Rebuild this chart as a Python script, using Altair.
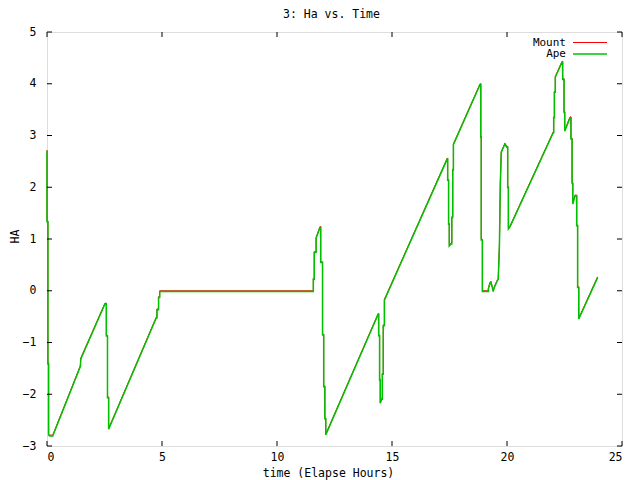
import altair as alt
import pandas as pd

# Step-like trace (time in hours, HA)
time_h = [0.00, 0.00, 0.04, 0.04, 0.07, 0.07, 0.12, 0.25, 1.45, 1.47, 2.52, 2.55,
          2.58, 2.58, 2.63, 2.63, 2.68, 2.68, 4.75, 4.78, 4.78, 4.85, 4.85, 4.90,
          4.90, 11.58, 11.58, 11.62, 11.62, 11.70, 11.70, 11.87, 11.90, 11.90, 11.98, 11.98,
          12.03, 12.03, 12.08, 12.08, 12.12, 12.12, 14.40, 14.42, 14.42, 14.46, 14.46, 14.49,
          14.49, 14.55, 14.58, 14.58, 14.62, 14.62, 14.67, 14.67, 17.40, 17.42, 17.42, 17.46,
          17.46, 17.49, 17.49, 17.57, 17.60, 17.60, 17.64, 17.64, 17.67, 17.67, 18.83, 18.86,
          18.86, 18.88, 18.88, 18.93, 18.93, 19.19, 19.19, 19.26, 19.30, 19.36, 19.40, 19.45,
          19.55, 19.62, 19.62, 19.67, 19.67, 19.71, 19.71, 19.75, 19.75, 19.91, 19.99, 20.03,
          20.03, 20.06, 20.06, 20.13, 22.01, 22.03, 22.03, 22.06, 22.06, 22.10, 22.10, 22.39,
          22.42, 22.42, 22.48, 22.48, 22.51, 22.51, 22.74, 22.78, 22.78, 22.83, 22.83, 22.86,
          22.86, 22.96, 23.03, 23.03, 23.07, 23.07, 23.12, 23.12, 23.94]
ha = [2.72, 1.35, 1.35, -1.40, -1.40, -2.77, -2.79, -2.79, -1.45, -1.30, -0.24, -0.24,
      -0.24, -0.86, -0.86, -2.05, -2.05, -2.66, -0.51, -0.51, -0.35, -0.35, -0.115, -0.115,
      0.0, 0.0, 0.24, 0.24, 0.755, 0.755, 1.03, 1.24, 1.24, 0.56, 0.56, -0.84,
      -0.84, -1.84, -1.84, -2.46, -2.46, -2.77, -0.44, -0.44, -0.855, -0.855, -1.71, -1.71,
      -2.16, -2.08, -2.08, -1.60, -1.60, -0.66, -0.66, -0.165, 2.56, 2.56, 2.15, 2.15,
      1.30, 1.30, 0.88, 0.92, 0.92, 1.43, 1.43, 2.35, 2.35, 2.84, 4.00, 4.00,
      2.98, 2.98, 0.995, 0.995, 0.0, 0.0, 0.05, 0.16, 0.18, 0.08, 0.0, 0.08,
      0.18, 0.24, 0.24, 0.88, 0.88, 2.08, 2.08, 2.69, 2.69, 2.85, 2.79, 2.79,
      2.01, 2.01, 1.21, 1.25, 3.07, 3.07, 3.36, 3.36, 3.85, 3.85, 4.14, 4.43,
      4.43, 4.10, 4.10, 3.46, 3.46, 3.10, 3.36, 3.36, 2.95, 2.95, 2.09, 2.09,
      1.69, 1.85, 1.85, 1.27, 1.27, 0.08, 0.08, -0.53, 0.27]

series = ["Mount", "Ape"]
colors = ["#ff0000", "#00c000"]
x_ticks = [0, 5, 10, 15, 20, 25]
y_ticks = [-3, -2, -1, 0, 1, 2, 3, 4, 5]
chart_title = "3: Ha vs. Time"

W, H = 575, 414
FONT = "DejaVu Sans Mono"
FS = 11.5

df = pd.DataFrame({"t": time_h, "ha": ha, "i": list(range(len(ha)))})

xs = alt.Scale(domain=[0, 25], nice=False, zero=False)
ys = alt.Scale(domain=[-3, 5], nice=False, zero=False)

xaxis = alt.Axis(values=x_ticks, domain=False, ticks=False, grid=False, labelFont=FONT,
                 labelFontSize=FS, labelColor="black", labelPadding=5, title="time (Elapse Hours)",
                 titleFont=FONT, titleFontSize=FS, titleFontWeight="normal", titleColor="black",
                 titleX=281, titleY=27, titleAlign="center", titleBaseline="middle")
yaxis = alt.Axis(values=y_ticks, domain=False, ticks=False, grid=False, labelFont=FONT,
                 labelFontSize=FS, labelColor="black", labelPadding=11, title="HA",
                 titleFont=FONT, titleFontSize=FS, titleFontWeight="normal", titleColor="black",
                 titleAngle=270, titleX=-32, titleY=204, titleAlign="center", titleBaseline="middle")

base = alt.Chart(df)
mount = base.mark_line(color=colors[0], strokeWidth=1, interpolate="linear").encode(
    x=alt.X("t:Q", scale=xs, axis=xaxis),
    y=alt.Y("ha:Q", scale=ys, axis=yaxis),
    order="i:Q",
)
ape = base.mark_line(color=colors[1], strokeWidth=1.5, yOffset=0.8, interpolate="linear").encode(
    x=alt.X("t:Q", scale=xs),
    y=alt.Y("ha:Q", scale=ys),
    order="i:Q",
)

xt = pd.DataFrame({"v": x_ticks})
yt = pd.DataFrame({"v": y_ticks})
tick_bot = alt.Chart(xt).mark_rule(color="black").encode(
    x=alt.X("v:Q", scale=xs), y=alt.value(H), y2=alt.value(H - 5))
tick_top = alt.Chart(xt).mark_rule(color="black").encode(
    x=alt.X("v:Q", scale=xs), y=alt.value(0), y2=alt.value(5))
tick_left = alt.Chart(yt).mark_rule(color="black").encode(
    y=alt.Y("v:Q", scale=ys), x=alt.value(0), x2=alt.value(5))
tick_right = alt.Chart(yt).mark_rule(color="black").encode(
    y=alt.Y("v:Q", scale=ys), x=alt.value(W), x2=alt.value(W - 5))

title_mark = alt.Chart(pd.DataFrame({"s": [chart_title]})).mark_text(
    align="center", baseline="middle", font=FONT, fontSize=FS, color="black").encode(
    text="s:N", x=alt.value(284.5), y=alt.value(-17))

leg_parts = []
for k, (name, c) in enumerate(zip(series, colors)):
    ly = 10.5 + k * 11.5
    d = pd.DataFrame({"name": [name]})
    leg_parts.append(alt.Chart(d).mark_text(align="right", baseline="middle", font=FONT,
                                            fontSize=11, color="black").encode(
        text="name:N", x=alt.value(519), y=alt.value(ly)))
    leg_parts.append(alt.Chart(d).mark_rule(color=c, strokeWidth=1.5 if k else 1).encode(
        x=alt.value(526), x2=alt.value(560), y=alt.value(ly)))

chart = alt.layer(mount, ape, tick_bot, tick_top, tick_left, tick_right, title_mark,
                  *leg_parts).properties(
    width=W, height=H,
    autosize=alt.AutoSizeParams(type="none"),
    padding={"left": 39, "top": 24, "right": 10, "bottom": 34},
).configure_view(stroke="black", strokeWidth=1).configure(background="white")

chart.save("out.html", embed_options={"renderer": "svg", "actions": False})
